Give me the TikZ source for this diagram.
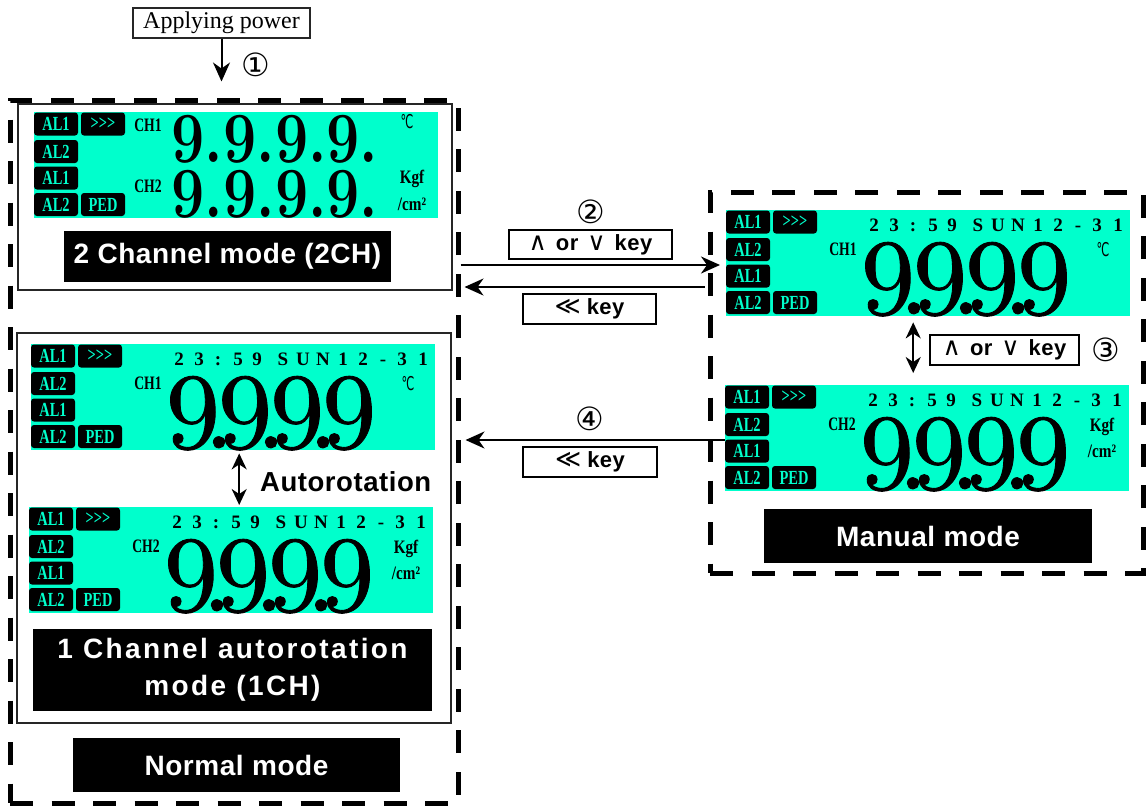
\documentclass[tikz,border=0pt]{standalone}
\usepackage{fontspec}
\usepackage{graphicx}
\usetikzlibrary{arrows.meta,positioning}
\newfontfamily\lcdfont{Liberation Serif}
\newfontfamily\boxfont[LetterSpace=2]{Liberation Sans}
\newfontfamily\widefont[LetterSpace=8.5]{Liberation Sans}
\newfontfamily\symfont{DejaVu Sans}
\newfontfamily\digitfont[Extension=.otf, FakeBold=0.8]{lmroman10-regular}
\definecolor{lcdcyan}{RGB}{0,255,204}
\newcommand{\cond}[1]{\scalebox{0.72}[1]{#1}}
\newcommand{\dt}{\kern-.148em.\kern-.148em}
\newcommand{\td}{\kern0em}
\newcommand{\celsius}{{\symfont\mdseries\scalebox{0.6}[1]{℃}}}
\newcommand{\keysym}[1]{{\symfont\mdseries\fontsize{25}{25}\selectfont #1}}

% alarm badges on the left of a display
\newcommand{\lcdbadges}[1]{%
  \node[badge] (#1-a) at (22,12) {\cond{AL1}};
  \node[badge] (#1-b) at (69,12) {\cond{>{}>{}>}};
  \node[badge] (#1-c) at (22,39.5) {\cond{AL2}};
  \node[badge] (#1-d) at (22,66) {\cond{AL1}};
  \node[badge] (#1-e) at (22,92.5) {\cond{AL2}};
  \node[badge] (#1-f) at (69,92.5) {\cond{PED}};}

% one channel display: name, x, y, channel, unit nodes
\newcommand{\onech}[5]{%
  \node[lcd] (#1) at (#2,#3) {};
  \begin{scope}[shift={(#2,#3)}]
    \lcdbadges{#1}
    \foreach \c/\px [count=\i] in {2/148,3/168,:/187,5/207,9/226,S/252,U/272,N/292,1/312,2/332,-/352,3/371,1/392}
      \node[timech] (#1-t\i) at (\px,21) {\c};
    \node[chlab] (#1-ch) at (117,45) {\cond{#4}};
    \node[bigval] (#1-val) at (240,104) {9\dt 9\dt 9\dt 9};
    #5
  \end{scope}}

\begin{document}
\begin{tikzpicture}[x=1pt, y=-1pt,
  dashbox/.style={draw, line width=5pt, dash pattern=on 23pt off 18.5pt, inner sep=0},
  framebox/.style={draw=black!85, line width=1.6pt, anchor=north west, inner sep=0},
  lcd/.style={fill=lcdcyan, anchor=north west, inner sep=0,
              minimum width=404pt, minimum height=106pt},
  badge/.style={fill=black, rounded corners=3pt, text=lcdcyan, inner sep=0,
                minimum width=44pt, minimum height=23pt,
                font=\lcdfont\bfseries\fontsize{20}{20}\selectfont},
  timech/.style={anchor=base, inner sep=0, font=\lcdfont\bfseries\fontsize{19}{19}\selectfont},
  chlab/.style={anchor=base, inner sep=0, font=\lcdfont\bfseries\fontsize{19}{19}\selectfont},
  unitlab/.style={anchor=base, inner sep=0, font=\lcdfont\bfseries\fontsize{19}{19}\selectfont},
  bigval/.style={anchor=base, inner sep=0, font=\digitfont\fontsize{108}{108}\selectfont},
  midval/.style={anchor=base, inner sep=0, font=\bfseries\fontsize{72}{72}\selectfont},
  modebox/.style={fill=black, text=white, inner sep=0, align=center,
                  font=\boxfont\bfseries\fontsize{28}{37}\selectfont},
  keybox/.style={draw, fill=white, line width=1.3pt, inner sep=0,
                 font=\boxfont\bfseries\fontsize{22}{22}\selectfont},
  circnum/.style={inner sep=0, font=\symfont\fontsize{32}{32}\selectfont},
  arr/.style={-{Stealth[length=19pt, width=17pt, inset=6pt]}, line width=2pt},
  twoway/.style={{Stealth[length=16pt, width=15pt, inset=5pt]}-{Stealth[length=16pt, width=15pt, inset=5pt]}, line width=1.6pt}
]
\useasboundingbox (0,0) rectangle (1147,807);

% mode frames
\node[dashbox, minimum width=448pt, minimum height=703pt] (normal) at (234,451.5) {};
\node[dashbox, minimum width=433pt, minimum height=381pt] (manual) at (926.5,382.5) {};
\node[framebox, minimum width=434pt, minimum height=186pt] (twoframe) at (17,103) {};
\node[framebox, minimum width=434pt, minimum height=390pt] (oneframe) at (16,332) {};

% power on
\node[keybox, draw=black!85, font=\lcdfont\fontsize{24}{24}\selectfont,
      minimum width=177pt, minimum height=30pt] (power) at (221.5,23) {Applying power};
\draw[arr, shorten >=16pt] (power.south) -- (power.south |- normal.north);
\node[circnum] (stepa) at (256,65) {①};

% 2 channel display
\node[lcd] (dual) at (34,112) {};
\begin{scope}[shift={(34,112)}]
  \lcdbadges{dual}
  \node[chlab] (dual-cha) at (114,19) {\cond{CH1}};
  \node[chlab] (dual-chb) at (114,80) {\cond{CH2}};
  \node[midval] (dual-va) at (241,50) {\scalebox{0.82}[1]{9.\td 9.\td 9.\td 9.}};
  \node[midval] (dual-vb) at (241,105) {\scalebox{0.82}[1]{9.\td 9.\td 9.\td 9.}};
  \node[unitlab] (dual-u) at (373,16) {\celsius};
  \node[unitlab] (dual-ka) at (378,71) {\scalebox{0.8}[1]{Kgf}};
  \node[unitlab] (dual-kb) at (378,98) {\scalebox{0.8}[1]{/cm²}};
\end{scope}
\node[modebox, minimum width=327pt, minimum height=51pt] (twolab) at (227.5,256.5) {2 Channel mode (2CH)};

% 1 channel autorotation
\onech{lone}{31}{344}{CH1}{\node[unitlab] (lone-u) at (377,46) {\celsius};}
\onech{ltwo}{29}{507}{CH2}{\node[unitlab] (ltwo-u) at (377,46) {\scalebox{0.8}[1]{Kgf}};
  \node[unitlab] (ltwo-v) at (377,72) {\scalebox{0.8}[1]{/cm²}};}
\draw[twoway, shorten <=3pt, shorten >=2pt] ([xshift=6pt]lone.south) -- ([xshift=8pt]ltwo.north);
\node[anchor=west, inner sep=0, font=\boxfont\bfseries\fontsize{27.5}{27.5}\selectfont] (auto) at (260,482) {Autorotation};
\node[modebox, font=\widefont\bfseries\fontsize{28}{37}\selectfont,
      minimum width=399pt, minimum height=82pt] (onelab) at (232.5,670) {1 Channel autorotation\\mode (1CH)};
\node[modebox, minimum width=327pt, minimum height=54pt] (normlab) at (236.5,765) {Normal mode};

% manual mode
\onech{rtop}{726}{210}{CH1}{\node[unitlab] (rtop-u) at (377,46) {\celsius};}
\onech{rbot}{725}{385}{CH2}{\node[unitlab] (rbot-u) at (377,46) {\scalebox{0.8}[1]{Kgf}};
  \node[unitlab] (rbot-v) at (377,72) {\scalebox{0.8}[1]{/cm²}};}
\draw[twoway, shorten <=6pt, shorten >=12pt] ([xshift=-15pt]rtop.south) -- ([xshift=-14pt]rbot.north);
\node[keybox, minimum width=149pt, minimum height=30pt] (keyd) at (1004.5,350)
  {\keysym{∧}\hspace{9pt}or\hspace{9pt}\keysym{∨}\hspace{9pt}key};
\node[circnum, right=12pt of keyd] (stepc) {③};
\node[modebox, minimum width=328pt, minimum height=54pt] (manlab) at (928,536) {Manual mode};

% switching between the modes
\coordinate (rowfwd) at (0,265);
\coordinate (rowback) at (0,287);
\coordinate (rowfour) at (0,440);
\node[keybox, minimum width=163pt, minimum height=29pt] (keya) at (590.5,244.5)
  {\keysym{∧}\hspace{9pt}or\hspace{9pt}\keysym{∨}\hspace{9pt}key};
\node[circnum, above=5pt of keya] (stepb) {②};
\node[keybox, minimum width=133pt, minimum height=30pt] (keyb) at (589.5,309)
  {\keysym{≪}\hspace{6pt}key};
\node[keybox, minimum width=134pt, minimum height=30pt] (keyc) at (590,462)
  {\keysym{≪}\hspace{6pt}key};
\node[circnum, above=15pt of keyc] (stepd) {④};
\draw[arr, shorten >=6pt] (normal.east |- rowfwd) -- (rtop.west |- rowfwd);
\draw[arr, shorten <=3pt, shorten >=4pt] (manual.west |- rowback) -- (normal.east |- rowback);
\draw[arr, shorten >=5pt] (rbot.west |- rowfour) -- (normal.east |- rowfour);
\end{tikzpicture}
\end{document}
